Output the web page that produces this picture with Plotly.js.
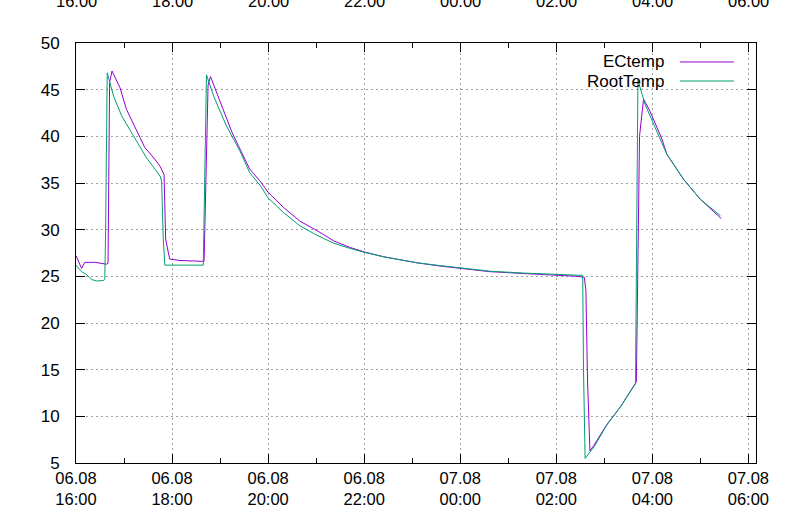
<!DOCTYPE html>
<html><head><meta charset="utf-8">
<script src="https://cdn.plot.ly/plotly-3.0.1.min.js"></script>
<style>html,body{margin:0;padding:0;background:#fff}</style>
</head><body><div id="chart" style="width:797px;height:508px"></div>
<script>
// ---- data (clock times, day 06.08 from 16:00, 07.08 after midnight) ----
const seriesNames = ['ECtemp', 'RootTemp'];
const ecTimes = ['16:00','16:07','16:11','16:24','16:38','16:40','16:42','16:45','16:55','17:03','17:20','17:26','17:37','17:45','17:50','17:52','17:57','18:10','18:40','18:41','18:45','18:48','19:04','19:15','19:29','19:37','19:50','20:00','20:19','20:40','21:01','21:22','21:42','22:01','22:24','22:45','23:06','23:35','00:01','00:37','01:19','02:00','02:26','02:35','02:37','02:39','02:42','02:47','03:03','03:20','03:40','03:41','03:44','03:49','03:57','04:12','04:18','04:39','05:00','05:26'];
const ecTemp = [27.2,25.85,26.5,26.5,26.3,26.4,45.8,47.0,45.2,42.9,39.85,38.8,37.7,36.8,35.9,29.0,26.85,26.7,26.6,30.0,45.5,46.4,42.9,40.4,37.9,36.5,35.2,34.0,32.4,30.9,29.9,28.8,28.1,27.6,27.1,26.75,26.45,26.1,25.85,25.5,25.3,25.15,25.0,24.9,23.5,14.0,6.3,6.9,9.1,11.0,13.7,20.0,40.0,44.0,42.7,39.7,38.1,35.4,33.25,31.2];
const rootTimes = ['16:00','16:07','16:13','16:20','16:26','16:34','16:36','16:37','16:39','16:47','16:57','17:12','17:28','17:45','17:47','17:49','17:51','18:39','18:41','18:43','18:52','19:08','19:25','19:37','19:50','20:00','20:19','20:40','21:01','21:22','21:42','22:01','22:24','22:45','23:06','23:35','00:01','00:37','01:19','02:00','02:33','02:34','02:36','02:47','03:03','03:20','03:39','03:40','03:42','03:51','04:06','04:18','04:39','05:00','05:25'];
const rootTemp = [26.2,25.5,25.2,24.65,24.5,24.55,24.7,30.0,46.8,44.3,42.2,40.0,37.7,35.75,35.2,29.0,26.2,26.2,35.0,46.6,44.3,41.1,38.4,36.1,34.75,33.4,31.85,30.4,29.4,28.55,28.0,27.55,27.1,26.75,26.45,26.15,25.9,25.55,25.35,25.2,25.1,15.0,5.5,6.7,9.05,11.0,13.5,25.0,46.0,43.4,40.4,38.1,35.4,33.25,31.5];
const tickClock = ['16:00','18:00','20:00','22:00','00:00','02:00','04:00','06:00'];
const tickDays  = ['06.08','06.08','06.08','06.08','07.08','07.08','07.08','07.08'];
const yTicks = [5,10,15,20,25,30,35,40,45,50];

function toDate(hm) {
  const h = parseInt(hm.slice(0, 2), 10);
  return (h >= 12 ? '2024-08-06 ' : '2024-08-07 ') + hm;
}
const tickVals = tickClock.map(toDate);
const tickBottom = tickClock.map((c, i) => tickDays[i] + '<br>' + c);

const FONT = {family: 'Liberation Sans, Arial, sans-serif', size: 17, color: '#000'};
const XFONT = {family: 'Liberation Sans, Arial, sans-serif', size: 16.5, color: '#000'};
const colors = ['#9400d3', '#009e73'];

const traces = [
  {x: ecTimes.map(toDate), y: ecTemp, name: seriesNames[0], type: 'scatter', mode: 'lines',
   line: {color: colors[0], width: 1}, hoverinfo: 'skip'},
  {x: rootTimes.map(toDate), y: rootTemp, name: seriesNames[1], type: 'scatter', mode: 'lines',
   line: {color: colors[1], width: 1}, hoverinfo: 'skip'}
];

const legX = 0.8676, legY = [0.9548, 0.9095];
const topLabels = tickVals.map((v, i) => ({
  text: tickClock[i], xref: 'x', yref: 'paper', x: v, y: 1.1,
  xanchor: 'center', yanchor: 'middle', showarrow: false, font: XFONT
}));
const legendLabels = seriesNames.map((n, i) => ({
  text: n, xref: 'paper', yref: 'paper', x: legX, y: legY[i],
  xanchor: 'right', yanchor: 'middle', showarrow: false, font: FONT
}));

const layout = {
  width: 797, height: 508,
  margin: {l: 76, r: 41, t: 43, b: 45, pad: 0},
  paper_bgcolor: '#fff', plot_bgcolor: '#fff',
  font: FONT,
  showlegend: false,
  xaxis: {
    type: 'date',
    range: ['2024-08-06 16:00', '2024-08-07 06:09:30'],
    tickmode: 'array', tickvals: tickVals, ticktext: tickBottom,
    ticks: 'inside', ticklen: 9, tickwidth: 1, tickcolor: '#000',
    showline: true, linecolor: '#000', linewidth: 1, mirror: 'ticks',
    showgrid: true, gridcolor: '#a0a0a0', griddash: '2px,3px', gridwidth: 1,
    zeroline: false, ticklabelstandoff: 0,
    minor: {ticks: 'inside', ticklen: 5, tickcolor: '#000', dtick: 3600000, tick0: '2024-08-06 17:00', showgrid: false},
    tickfont: XFONT
  },
  yaxis: {
    range: [5, 50], tickmode: 'array', tickvals: yTicks,
    ticks: 'inside', ticklen: 9, tickwidth: 1, tickcolor: '#000',
    showline: true, linecolor: '#000', linewidth: 1, mirror: 'ticks',
    showgrid: true, gridcolor: '#a0a0a0', griddash: '2px,3px', gridwidth: 1,
    zeroline: false, ticklabelstandoff: 12, tickfont: FONT
  },
  shapes: [
    {type: 'rect', xref: 'paper', yref: 'paper', x0: 0.744, x1: 0.985, y0: 0.881, y1: 0.988,
     fillcolor: '#fff', line: {width: 0}, layer: 'between'},
    {type: 'line', xref: 'paper', yref: 'paper', x0: 0.888, x1: 0.9676, y0: legY[0], y1: legY[0],
     line: {color: colors[0], width: 1}},
    {type: 'line', xref: 'paper', yref: 'paper', x0: 0.888, x1: 0.9676, y0: legY[1], y1: legY[1],
     line: {color: colors[1], width: 1}}
  ],
  annotations: topLabels.concat(legendLabels)
};

Plotly.newPlot('chart', traces, layout, {staticPlot: true, displayModeBar: false});
</script>
</body></html>
